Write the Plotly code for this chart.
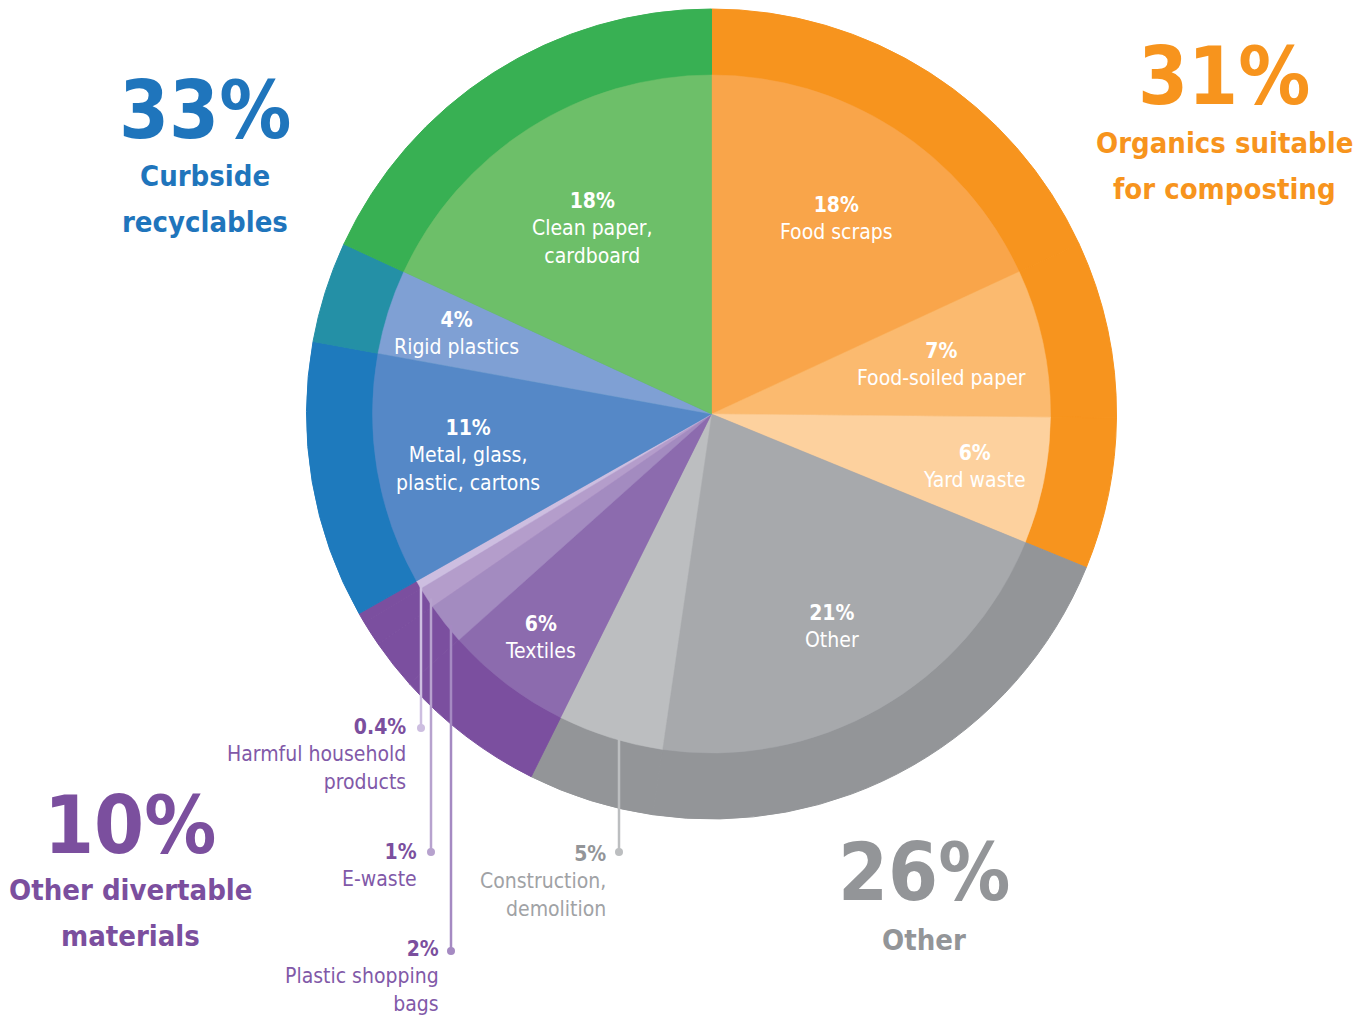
import math
import plotly.graph_objects as go

# ---------------- data ----------------
group_lines = [["Organics suitable", "for composting"], ["Other"],
               ["Other divertable", "materials"], ["Curbside", "recyclables"]]
group_pct = ["31%", "26%", "10%", "33%"]

item_names = ["Food scraps", "Food-soiled paper", "Yard waste", "Other",
              "Construction,<br>demolition", "Textiles", "Plastic shopping<br>bags",
              "E-waste", "Harmful household<br>products", "Metal, glass,<br>plastic, cartons",
              "Rigid plastics", "Clean paper,<br>cardboard"]
item_values = [18, 7, 6, 21, 5, 6, 2, 1, 0.4, 11, 4, 18]
item_pct = ["18%", "7%", "6%", "21%", "5%", "6%", "2%", "1%", "0.4%", "11%", "4%", "18%"]
item_group = [0, 0, 0, 1, 1, 2, 2, 2, 2, 3, 3, 3]

# ---------------- style ----------------
W, H = 1371, 1020
CX, CY = 711.5, 414.0
R_OUT, R_IN = 405.0, 339.0
FONT = "'Liberation Sans Narrow', 'Arial Narrow', 'DejaVu Sans Condensed', Roboto, sans-serif"

inner_colors = ["#F9A54A", "#FBBA6F", "#FDD19E", "#A7A9AC", "#BCBEC0", "#8C6BAE",
                "#A38BC0", "#B49DCB", "#CDBEE0", "#5588C7", "#7FA0D4", "#6DBF69"]
outer_colors = ["#F7941E", "#F7941E", "#F7941E", "#939598", "#939598", "#7B4F9F",
                "#7B4F9F", "#7B4F9F", "#7B4F9F", "#1E7ABD", "#2490A6", "#38B053"]
group_colors = ["#F7941D", "#939598", "#7B4F9E", "#1F75BC"]

# inside labels: radial fraction (None -> external label)
inside_frac = [0.684, 0.694, 0.79, 0.72, None, 0.83, None, None, None, 0.728, 0.79, 0.65]
# external labels: leader x, dot y, text right edge, text middle y, colours
external = {
    4: dict(x=619, dot_y=852, tx=608, ty=881, line="#BCBEC0", c1="#939598", c2="#A0A2A5"),
    6: dict(x=451, dot_y=951, tx=441, ty=976, line="#A58AC2", c1="#7B4F9E", c2="#8159A8"),
    7: dict(x=431, dot_y=852, tx=419, ty=865, line="#B7A2CE", c1="#7B4F9E", c2="#8159A8"),
    8: dict(x=421, dot_y=728, tx=408, ty=754, line="#CDBEE0", c1="#7B4F9E", c2="#8159A8"),
}
# (x, number y, first subtitle line y); subtitle line step
group_label_pos = [(1224, 76, 143), (924, 872, 940), (130, 825, 890), (205, 110, 176)]
SUB_STEP = 46


def dom(r):
    return dict(x=[(CX - r) / W, (CX + r) / W], y=[(H - CY - r) / H, (H - CY + r) / H])


fig = go.Figure()

# outer ring (group colours)
fig.add_trace(go.Pie(values=item_values, labels=[f"o{i}" for i in range(len(item_values))],
                     sort=False, direction="clockwise", rotation=0,
                     marker=dict(colors=outer_colors, line=dict(color=outer_colors, width=1)),
                     textinfo="none", hoverinfo="skip", domain=dom(R_OUT), showlegend=False))
# inner pie
fig.add_trace(go.Pie(values=item_values, labels=item_names,
                     sort=False, direction="clockwise", rotation=0,
                     marker=dict(colors=inner_colors, line=dict(color=inner_colors, width=0.5)),
                     textinfo="none", hoverinfo="label+value", domain=dom(R_IN), showlegend=False))

total = sum(item_values)
annotations = []
shapes = []
dot_x, dot_y, dot_c = [], [], []
cum = 0.0
for i, v in enumerate(item_values):
    mid = (cum + v / 2) / total * 2 * math.pi
    cum += v
    f = inside_frac[i]
    if f is not None:
        x = CX + f * R_IN * math.sin(mid)
        y = CY - f * R_IN * math.cos(mid)
        annotations.append(dict(x=x, y=y, xref="x", yref="y", showarrow=False,
                                text=f"<b>{item_pct[i]}</b><br>{item_names[i]}",
                                font=dict(family=FONT, size=21, color="white"),
                                xanchor="center", yanchor="middle", align="center"))
    else:
        e = external[i]
        y_top = CY + math.sqrt(R_IN ** 2 - (e["x"] - CX) ** 2) - 6
        shapes.append(dict(type="line", xref="x", yref="y", x0=e["x"], x1=e["x"],
                           y0=y_top, y1=e["dot_y"], line=dict(color=e["line"], width=2.5)))
        dot_x.append(e["x"]); dot_y.append(e["dot_y"]); dot_c.append(e["line"])
        annotations.append(dict(x=e["tx"], y=e["ty"], xref="x", yref="y", showarrow=False,
                                text=f"<b><span style='color:{e['c1']}'>{item_pct[i]}</span></b><br>{item_names[i]}",
                                font=dict(family=FONT, size=21, color=e["c2"]),
                                xanchor="right", yanchor="middle", align="right"))

for g in range(len(group_lines)):
    gx, gy_num, gy_sub = group_label_pos[g]
    annotations.append(dict(x=gx, y=gy_num, xref="x", yref="y", showarrow=False,
                            text=f"<b>{group_pct[g]}</b>",
                            font=dict(family=FONT, size=80, color=group_colors[g]),
                            xanchor="center", yanchor="middle"))
    for k, line in enumerate(group_lines[g]):
        annotations.append(dict(x=gx, y=gy_sub + k * SUB_STEP, xref="x", yref="y",
                                showarrow=False, text=f"<b>{line}</b>",
                                font=dict(family=FONT, size=29, color=group_colors[g]),
                                xanchor="center", yanchor="middle", align="center"))

fig.add_trace(go.Scatter(x=dot_x, y=dot_y, mode="markers",
                         marker=dict(size=8, color=dot_c), hoverinfo="skip", showlegend=False))

fig.update_layout(
    width=W, height=H, margin=dict(l=0, r=0, t=0, b=0),
    paper_bgcolor="white", plot_bgcolor="rgba(0,0,0,0)",
    xaxis=dict(range=[0, W], visible=False, domain=[0, 1], fixedrange=True),
    yaxis=dict(range=[H, 0], visible=False, domain=[0, 1], fixedrange=True),
    annotations=annotations, shapes=shapes, showlegend=False,
)

fig.write_html("out.html", config={"displayModeBar": False},
               post_script="document.body.style.margin='0';")
